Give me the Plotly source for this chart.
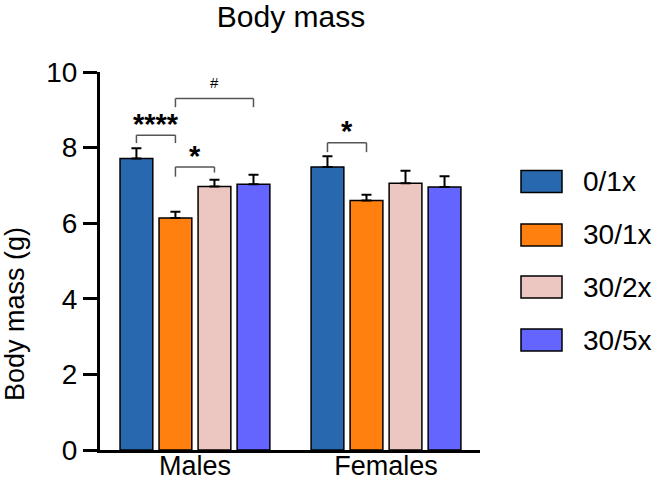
import plotly.graph_objects as go

# ---- data ----
groups = ["Males", "Females"]
series = ["0/1x", "30/1x", "30/2x", "30/5x"]
colors = ["#2868AE", "#FF800E", "#ECC6C0", "#6464FF"]
mean_01 = [7.71, 7.49]
mean_301 = [6.14, 6.60]
mean_302 = [6.97, 7.06]
mean_305 = [7.03, 6.96]
sem_01 = [0.27, 0.28]
sem_301 = [0.16, 0.15]
sem_302 = [0.18, 0.33]
sem_305 = [0.25, 0.28]
means = [mean_01, mean_301, mean_302, mean_305]
sems = [sem_01, sem_301, sem_302, sem_305]

# significance brackets: (group index, bar i, bar j, top y, leg-left y, leg-right y, label, bold, size)
brackets = [
    (0, 0, 1, 8.33, 8.12, 8.12, "****", True, 29),
    (0, 1, 3, 9.30, 9.07, 9.07, "#", False, 15),
    (0, 1, 2, 7.49, 7.23, 7.34, "*", True, 29),
    (1, 0, 1, 8.13, 7.88, 7.88, "*", True, 29),
]

FONT = "Liberation Sans, Arial, Helvetica, sans-serif"
bargap = 0.183
slot = (1 - bargap) / len(series)

fig = go.Figure()
for k, name in enumerate(series):
    fig.add_trace(go.Bar(
        x=groups, y=means[k], name=name,
        marker=dict(color=colors[k], line=dict(color="black", width=1.5)),
        error_y=dict(type="data", symmetric=False, array=sems[k],
                     arrayminus=[0] * len(groups), color="black",
                     thickness=2, width=5),
        showlegend=False,
    ))

shapes = []
annotations = []
for g, i, j, ytop, yl, yr, label, bold, size in brackets:
    xi = g + (i - 1.5) * slot
    xj = g + (j - 1.5) * slot
    lc = dict(color="#555555", width=1.5)
    shapes.append(dict(type="line", xref="x", yref="y", x0=xi, x1=xj, y0=ytop, y1=ytop, line=lc))
    shapes.append(dict(type="line", xref="x", yref="y", x0=xi, x1=xi, y0=yl, y1=ytop, line=lc))
    shapes.append(dict(type="line", xref="x", yref="y", x0=xj, x1=xj, y0=yr, y1=ytop, line=lc))
    txt = "<b>%s</b>" % label if bold else label
    yoff = 0.30 if bold else 0.42
    annotations.append(dict(x=(xi + xj) / 2, y=ytop + yoff, xref="x", yref="y",
                            text=txt, showarrow=False, yanchor="middle",
                            font=dict(family=FONT, size=size, color="black")))

# manual legend with large swatches
leg_centers_px = [181.5, 235, 287, 340]
for k, name in enumerate(series):
    c = leg_centers_px[k]
    y0 = (450 - (c + 11)) / 378
    y1 = (450 - (c - 11)) / 378
    shapes.append(dict(type="rect", xref="paper", yref="paper",
                       x0=(521 - 100) / 380, x1=(562 - 100) / 380, y0=y0, y1=y1,
                       fillcolor=colors[k], line=dict(color="black", width=1.5)))
    annotations.append(dict(x=(581 - 100) / 380, y=(450 - c) / 378, xref="paper", yref="paper",
                            text=name, showarrow=False, xanchor="left", yanchor="middle",
                            font=dict(family=FONT, size=28, color="black")))

# y-axis title
annotations.append(dict(x=(15 - 100) / 380, y=(450 - 314) / 378, xref="paper", yref="paper",
                        text="Body mass (g)", textangle=-90, showarrow=False,
                        xanchor="center", yanchor="middle",
                        font=dict(family=FONT, size=27, color="black")))

fig.update_layout(
    width=661, height=485,
    margin=dict(l=100, r=181, t=72, b=35, autoexpand=False),
    paper_bgcolor="white", plot_bgcolor="white",
    barmode="group", bargap=bargap, bargroupgap=0.16,
    title=dict(text="Body mass", x=291 / 661, xanchor="center", y=1 - 16 / 485, yanchor="middle",
               font=dict(family=FONT, size=30, color="black")),
    font=dict(family=FONT, color="black"),
    shapes=shapes, annotations=annotations,
    xaxis=dict(range=[-0.497, 1.492], showline=True, linecolor="black", linewidth=3,
               ticks="", tickfont=dict(family=FONT, size=27, color="black"),
               ticklabelstandoff=-10,
               showgrid=False, zeroline=False, automargin=False),
    yaxis=dict(range=[0, 10], dtick=2, showline=True, linecolor="black", linewidth=3,
               ticks="outside", ticklen=14, tickwidth=3, tickcolor="black",
               tickfont=dict(family=FONT, size=28, color="black"),
               showgrid=False, zeroline=False, automargin=False),
)

fig.write_html("out.html")
